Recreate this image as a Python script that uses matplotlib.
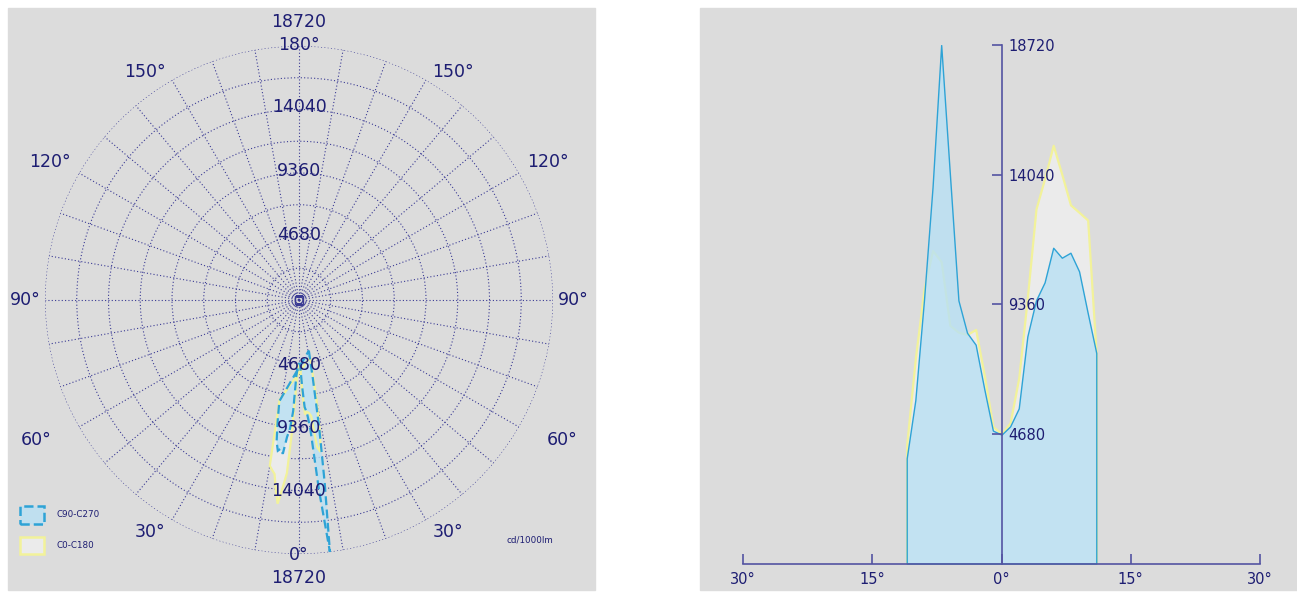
import numpy as np
import matplotlib.pyplot as plt
from matplotlib.patches import Rectangle, Patch

W, H, DPI = 1297, 592, 100

# luminous intensity, cd/1000lm, per degree from -11 to 11
angles = np.arange(-11, 12)
c90_c270 = [3800, 5900, 9500, 13600, 18720, 14100, 9500, 8330, 7900, 6300, 4800,
            4650,
            4950, 5600, 8200, 9500, 10150, 11400, 11040, 11220, 10550, 9050, 7600]
c0_c180 = [4300, 7400, 9900, 11300, 10900, 8600, 8350, 8270, 8450, 6800, 4950,
           4680,
           5080, 6700, 9600, 12800, 13900, 15100, 14050, 12950, 12680, 12400, 7500]
r_ticks = [4680, 9360, 14040, 18720]
x_ticks = [-30, -15, 0, 15, 30]
x_labels = ['30°', '15°', '0°', '15°', '30°']
series_names = ['C90-C270', 'C0-C180']

BG = '#dcdcdc'
NAVY = '#1d1d72'
GRID = '#3a3a94'
AXIS = '#5454a2'
BLUE_EDGE = '#2ea3d6'
BLUE_FILL = (0.72, 0.88, 0.96, 0.8)
YEL_EDGE = '#f2f29a'
YEL_FILL = '#ebebeb'

fig = plt.figure(figsize=(W / DPI, H / DPI), dpi=DPI)
fig.patches.append(Rectangle((8 / W, 2 / H), 587 / W, 582 / H, transform=fig.transFigure,
                             color=BG, zorder=-1))
fig.patches.append(Rectangle((700 / W, 2 / H), 597 / W, 582 / H, transform=fig.transFigure,
                             color=BG, zorder=-1))

# ---- polar diagram ----
pax = fig.add_axes([45 / W, 1 - 554 / H, 508 / W, 508 / H], projection='polar')
pax.set_facecolor('none')
pax.set_theta_zero_location('S')
pax.set_theta_direction(-1)
pax.set_ylim(0, 18720)
rings = np.arange(2340, 18721, 2340)
pax.set_rgrids(rings, labels=[''] * len(rings))
spokes = np.arange(0, 360, 10)
pax.set_thetagrids(spokes, labels=[''] * len(spokes))
pax.grid(True, color=GRID, linestyle=(0, (1, 2)), linewidth=0.8)
pax.spines['polar'].set_visible(False)

theta = np.deg2rad(angles)
pax.fill(theta, c0_c180, facecolor=YEL_FILL, edgecolor='none', zorder=3)
pax.fill(theta, c90_c270, facecolor=BLUE_FILL, edgecolor='none', zorder=4)
pax.fill(theta, c0_c180, facecolor='none', edgecolor=YEL_EDGE, linewidth=1.6, zorder=5)
pax.fill(theta, c90_c270, facecolor='none', edgecolor=BLUE_EDGE, linewidth=1.6,
         linestyle=(0, (4, 2)), zorder=6)
pax.plot([0], [0], marker='s', ms=6, mfc='none', mec=GRID, mew=1, zorder=7)

k = 18720 / 254.0  # data units per pixel of radius
big = dict(color=NAVY, fontsize=12.5, ha='center', va='center', clip_on=False, zorder=8)
for v in r_ticks[:-1]:
    pax.text(np.pi, v + 2 * k, str(v), **big)
    pax.text(0, v + 1 * k, str(v), **big)
pax.text(np.pi, 255 * k, '180°', **big)
pax.text(np.pi, 278 * k, str(r_ticks[-1]), **big)
pax.text(0, 255 * k, '0°', **big)
pax.text(0, 278 * k, str(r_ticks[-1]), **big)

side_labels = [(32.7, 276, '30°'), (62, 298, '60°'), (90, 274, '90°'),
               (119, 285, '120°'), (146, 275, '150°')]
for deg, rpx, txt in side_labels:
    pax.text(np.deg2rad(deg), rpx * k, txt, **big)
    pax.text(np.deg2rad(-deg), rpx * k, txt, **big)

handles = [Patch(facecolor=BLUE_FILL, edgecolor=BLUE_EDGE, linestyle='--', linewidth=1.8),
           Patch(facecolor=YEL_FILL, edgecolor=YEL_EDGE, linewidth=1.8)]
fig.legend(handles, series_names, loc='upper left', bbox_to_anchor=(20 / W, 1 - 506 / H),
           frameon=False, fontsize=6.3, handlelength=2.7, handleheight=2.7,
           labelspacing=1.5, handletextpad=1.5, borderpad=0, borderaxespad=0,
           labelcolor=NAVY)
fig.text(530 / W, 1 - 540 / H, 'cd/1000lm', color=NAVY, fontsize=6.3, ha='center', va='center')

# ---- linear diagram ----
lax = fig.add_axes([743 / W, 1 - 563.5 / H, 517 / W, 518.5 / H])
lax.set_facecolor('none')
lax.set_xlim(-30, 30)
lax.set_ylim(0, 18720)
lax.fill_between(angles, c0_c180, 0, facecolor=YEL_FILL, edgecolor=YEL_EDGE, linewidth=1.6,
                 zorder=2)
lax.fill_between(angles, c90_c270, 0, facecolor=BLUE_FILL, edgecolor=BLUE_EDGE, linewidth=1,
                 zorder=3)

for side in ['top', 'right']:
    lax.spines[side].set_visible(False)
lax.spines['left'].set_position(('data', 0))
lax.spines['bottom'].set_position(('data', 0))
for side in ['left', 'bottom']:
    lax.spines[side].set_color(AXIS)
    lax.spines[side].set_linewidth(1.2)
    lax.spines[side].set_zorder(4)
lax.xaxis.set_zorder(5)
lax.yaxis.set_zorder(5)

lax.set_xticks(x_ticks, x_labels)
lax.set_yticks(r_ticks, [str(v) for v in r_ticks])
lax.tick_params(axis='x', direction='in', length=7, width=1.2, color=AXIS,
                labelcolor=NAVY, labelsize=10.5, pad=6)
lax.tick_params(axis='y', direction='out', length=7.5, width=1.2, color=AXIS,
                labelcolor=NAVY, labelsize=10.5, pad=-12.5)
plt.setp(lax.get_yticklabels(), ha='left')

fig.savefig('out.png', dpi=DPI)
